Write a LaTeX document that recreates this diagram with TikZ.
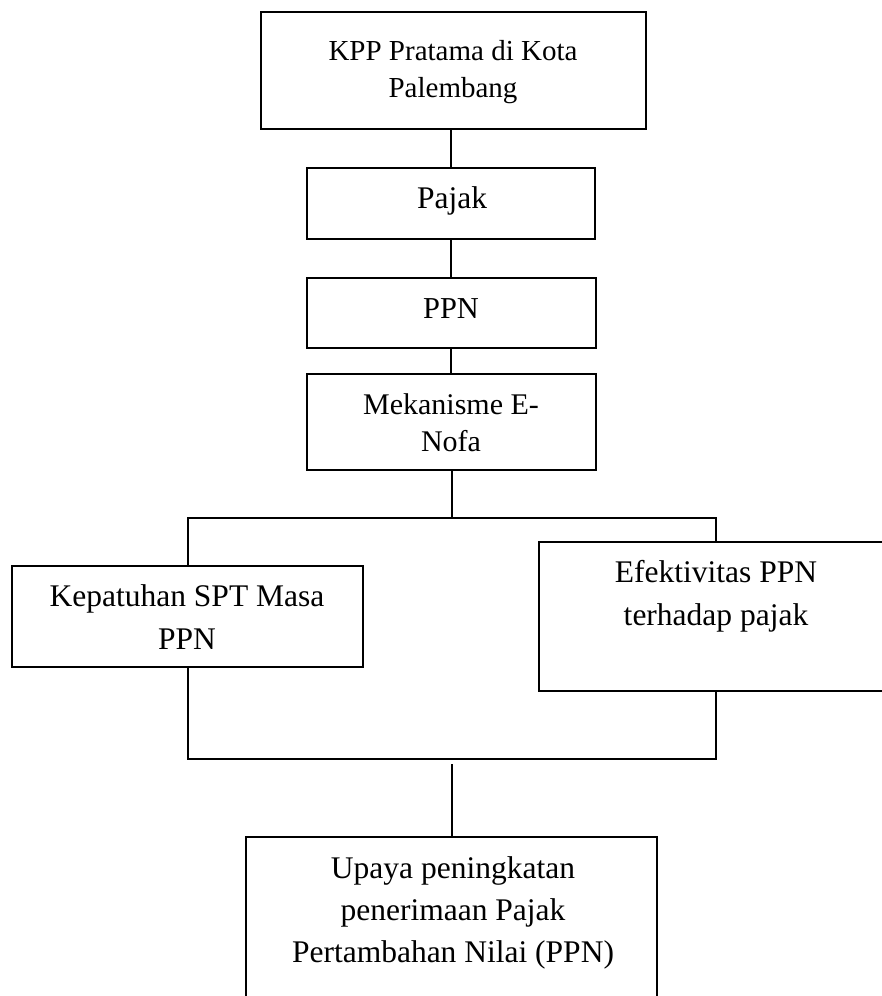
\documentclass[tikz,border=0pt]{standalone}
\usepackage{fontspec}
\setmainfont{Liberation Serif}
\begin{document}
\begin{tikzpicture}[x=1pt,y=-1pt,
  box/.style={draw=black,line width=1.2pt,inner sep=0pt,fill=none},
  txt/.style={align=center,inner sep=0pt,anchor=base,text=black},
  conn/.style={draw=black,line width=1.2pt}]
\useasboundingbox (0,0) rectangle (882,996);
\clip (0,0) rectangle (882,996);
% boxes
\node[box,minimum width=385pt,minimum height=117pt] (kpp) at (453.5,70.5) {};
\node[box,minimum width=288pt,minimum height=71pt] (pajak) at (451,203.5) {};
\node[box,minimum width=289pt,minimum height=70pt] (ppn) at (451.5,313) {};
\node[box,minimum width=289pt,minimum height=96pt] (mek) at (451.5,422) {};
\node[box,minimum width=351pt,minimum height=101pt] (kep) at (187.5,616.5) {};
\node[box,minimum width=354pt,minimum height=149pt] (efe) at (716,616.5) {};
\node[box,minimum width=411pt,minimum height=200pt] (upa) at (451.5,937) {};
% texts (anchor base = baseline of last line)
\node[txt,font=\fontsize{29}{37}\selectfont] (tkpp) at (453,97) {KPP Pratama di Kota\\Palembang};
\node[txt,font=\fontsize{31.5}{43}\selectfont] (tpajak) at (452,208) {Pajak};
\node[txt,font=\fontsize{30.4}{37}\selectfont] (tppn) at (451,318) {PPN};
\node[txt,font=\fontsize{30}{37}\selectfont] (tmek) at (451,451) {Mekanisme E-\\Nofa};
\node[txt,font=\fontsize{31.5}{43}\selectfont] (tkep) at (187,649) {Kepatuhan SPT Masa\\PPN};
\node[txt,font=\fontsize{31.5}{43}\selectfont] (tefe) at (716,625) {Efektivitas PPN\\terhadap pajak};
\node[txt,font=\fontsize{31.5}{42}\selectfont] (tupa) at (453,962) {Upaya peningkatan\\penerimaan Pajak\\Pertambahan Nilai (PPN)};
% connectors
\coordinate (split) at (452,518);
\coordinate (splitL) at (188,518);
\coordinate (splitR) at (716,518);
\coordinate (joinL) at (188,759);
\coordinate (joinR) at (716,759);
\coordinate (joinC) at (452,764);
\draw[conn] (kpp.south -| pajak.north) -- (pajak.north);
\draw[conn] (pajak.south) -- (ppn.north -| pajak.south);
\draw[conn] (ppn.south -| pajak.south) -- (mek.north -| pajak.south);
\draw[conn] (mek.south -| split) -- (split);
\draw[conn] (kep.north -| splitL) -- (splitL) -- (splitR) -- (efe.north -| splitR);
\draw[conn] (kep.south -| joinL) -- (joinL) -- (joinR) -- (efe.south -| joinR);
\draw[conn] (joinC) -- (upa.north -| joinC);
\end{tikzpicture}
\end{document}
